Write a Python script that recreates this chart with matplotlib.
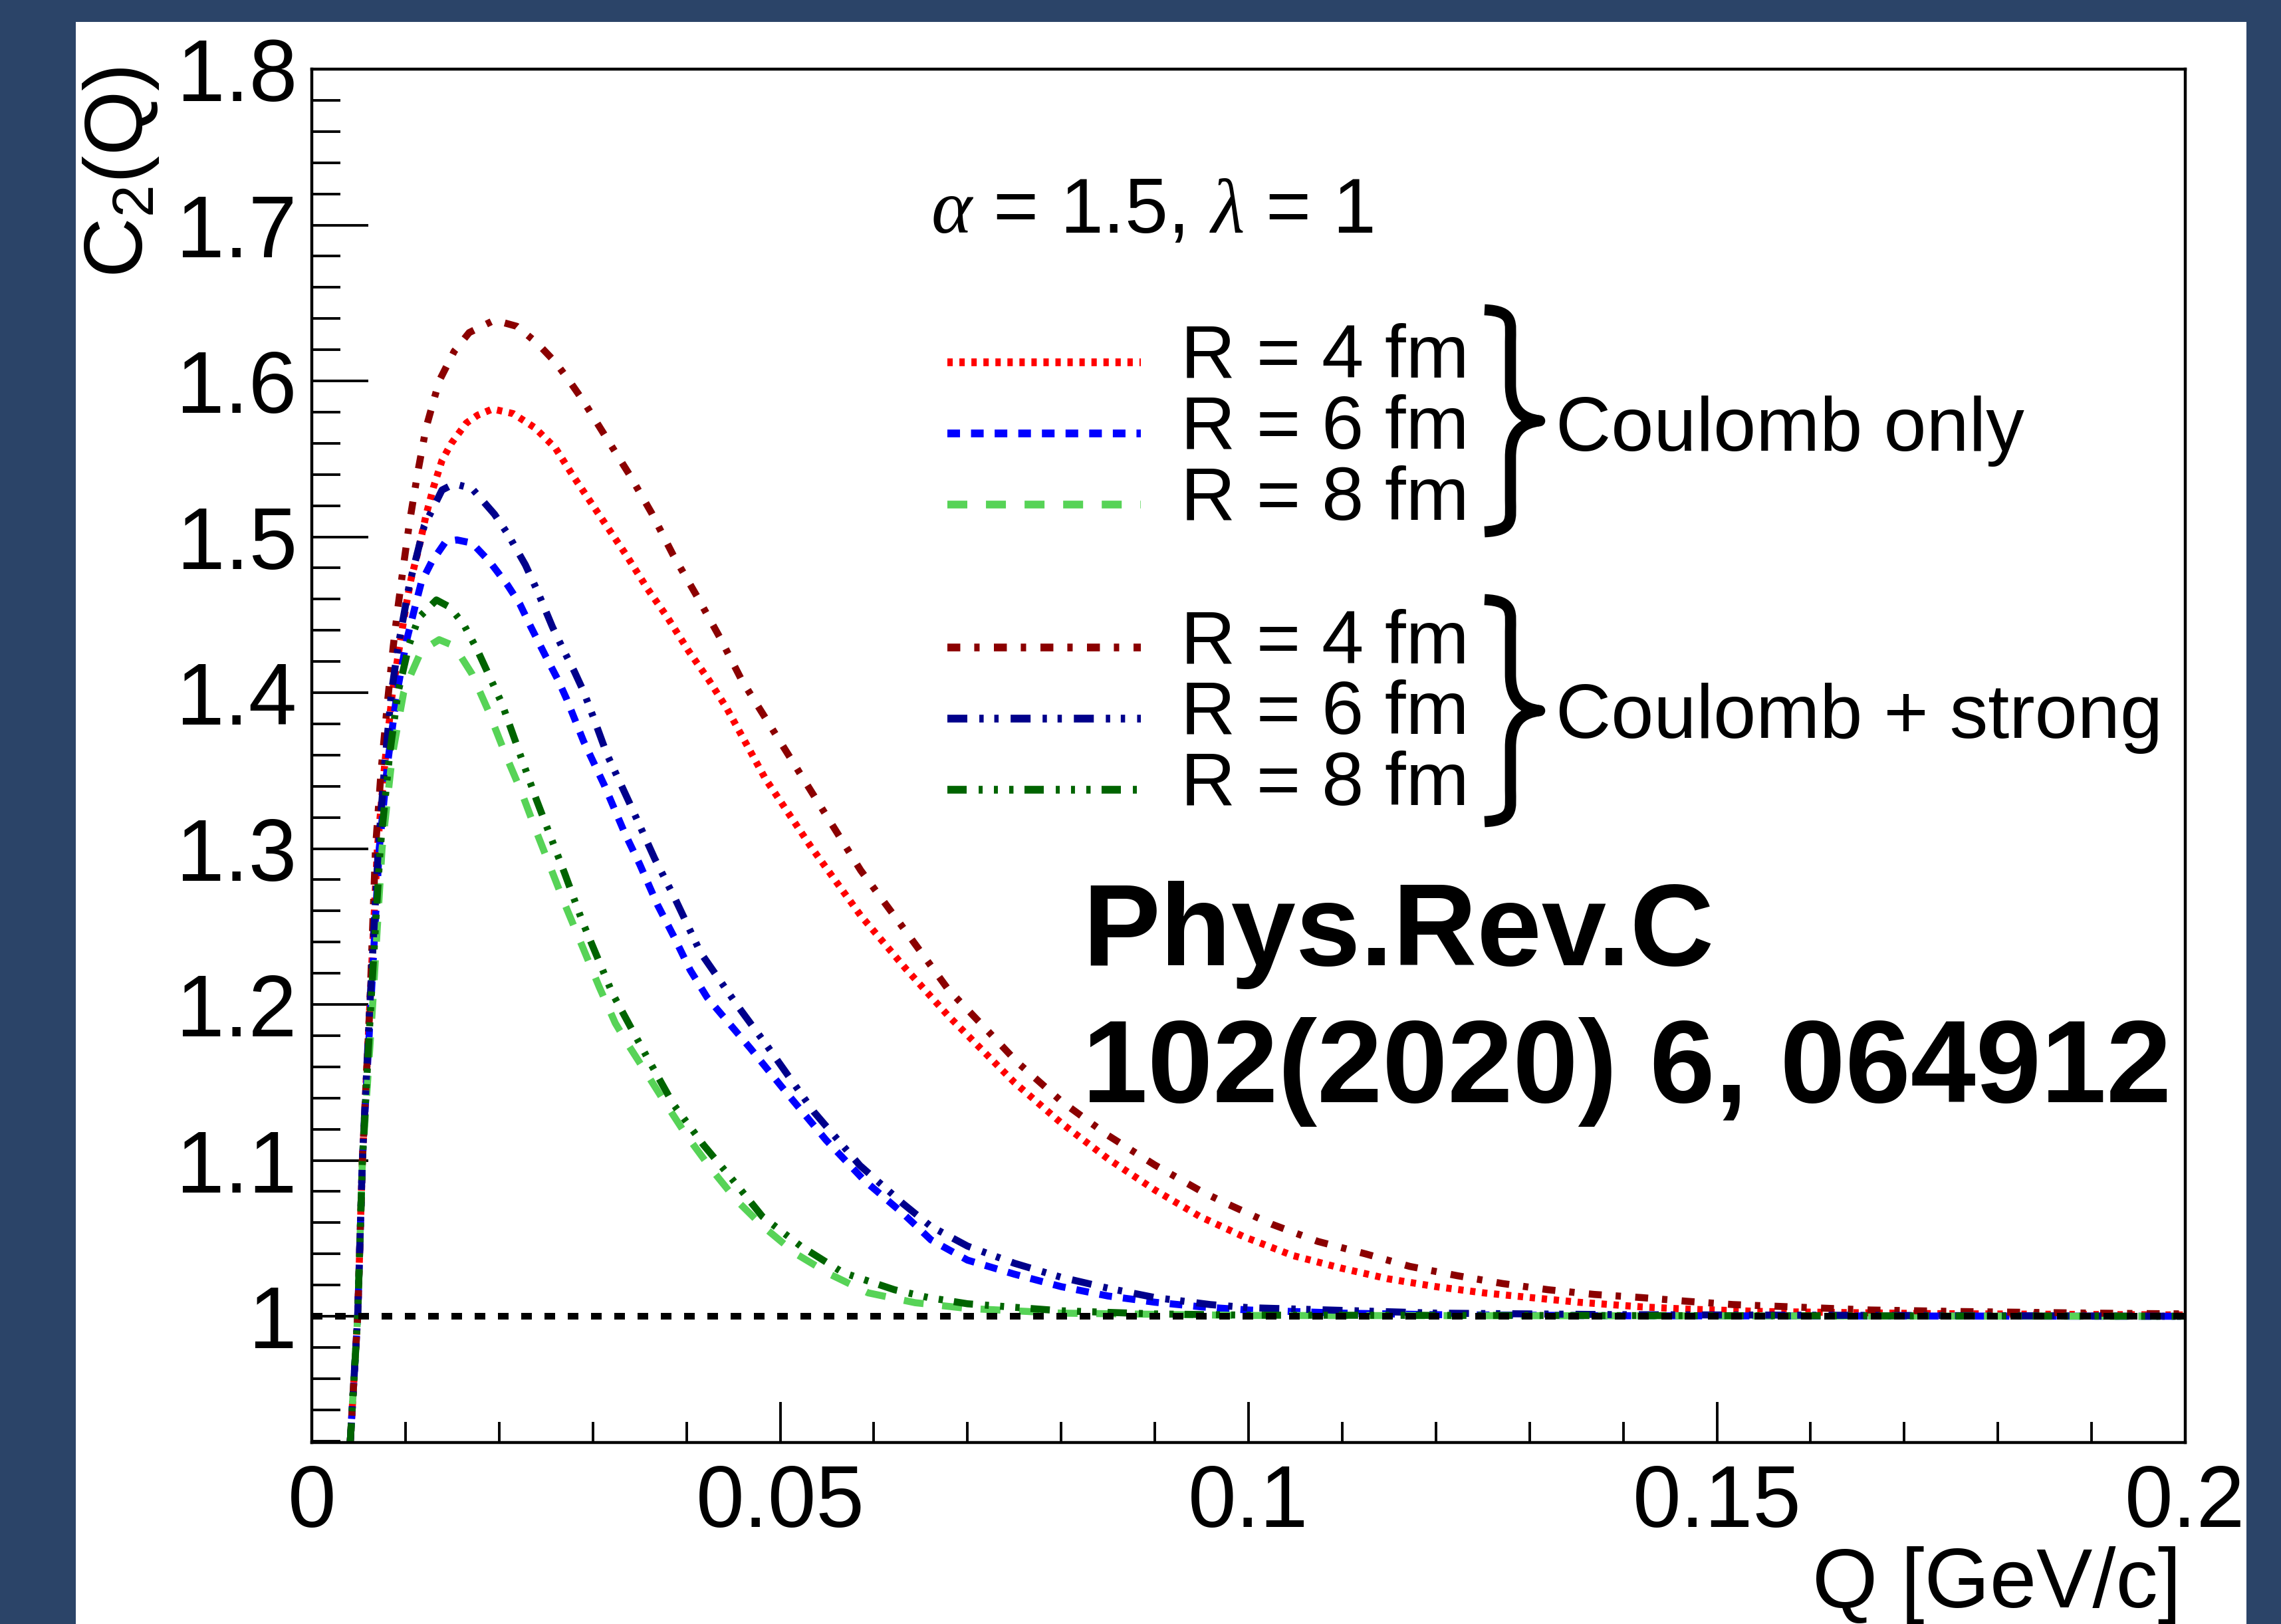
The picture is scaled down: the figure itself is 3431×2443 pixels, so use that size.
import matplotlib
matplotlib.use('Agg')
import matplotlib.pyplot as plt
from matplotlib.lines import Line2D
from matplotlib.patches import Rectangle, PathPatch
from matplotlib.path import Path

# --- data: Q [GeV/c] and C2(Q) ---
# Coulomb only
q_c4 = [0.0041, 0.0049, 0.0054, 0.0062, 0.0070, 0.0078, 0.0086, 0.0095, 0.0101, 0.0106,
        0.0114, 0.0122, 0.0130, 0.0139, 0.0149, 0.0165, 0.0177, 0.0193, 0.0215, 0.0238,
        0.0260, 0.0279, 0.0298, 0.0317, 0.0336, 0.0358, 0.0380, 0.0402, 0.0424, 0.0443,
        0.0484, 0.0533, 0.0586, 0.0634, 0.0679, 0.0712, 0.0750, 0.0800, 0.0850, 0.0900,
        0.0948, 0.0995, 0.1047, 0.1098, 0.1149, 0.1200, 0.1251, 0.1301, 0.1352, 0.1420,
        0.1471, 0.1552, 0.1727, 0.2000]
c_c4 = [0.919, 1.000, 1.100, 1.200, 1.300, 1.355, 1.400, 1.435, 1.457, 1.473,
        1.492, 1.514, 1.532, 1.549, 1.560, 1.573, 1.578, 1.582, 1.579, 1.570,
        1.557, 1.539, 1.522, 1.505, 1.488, 1.467, 1.448, 1.427, 1.408, 1.390,
        1.345, 1.301, 1.257, 1.223, 1.193, 1.173, 1.150, 1.124, 1.101, 1.081,
        1.064, 1.051, 1.039, 1.031, 1.024, 1.019, 1.015, 1.012, 1.009, 1.006,
        1.0045, 1.003, 1.0017, 1.0008]

q_c6 = [0.0041, 0.0049, 0.0054, 0.0063, 0.0072, 0.0081, 0.0091, 0.0101, 0.0111, 0.0117,
        0.0128, 0.0143, 0.0155, 0.0171, 0.0190, 0.0209, 0.0222, 0.0234, 0.0250, 0.0263,
        0.0272, 0.0290, 0.0312, 0.0334, 0.0350, 0.0369, 0.0387, 0.0404, 0.0422, 0.0468,
        0.0508, 0.0549, 0.0590, 0.0631, 0.0661, 0.0700, 0.0750, 0.0800, 0.0850, 0.0900,
        0.0950, 0.1000, 0.1100, 0.1200, 0.1400, 0.2000]
c_c6 = [0.919, 1.000, 1.100, 1.200, 1.300, 1.355, 1.400, 1.433, 1.457, 1.471,
        1.484, 1.497, 1.498, 1.496, 1.484, 1.469, 1.457, 1.442, 1.423, 1.408,
        1.396, 1.369, 1.341, 1.310, 1.290, 1.264, 1.243, 1.222, 1.2045, 1.172,
        1.1425, 1.113, 1.087, 1.066, 1.049, 1.036, 1.027, 1.019, 1.013, 1.009,
        1.006, 1.004, 1.002, 1.001, 1.0003, 1.000]

q_c8 = [0.0041, 0.0049, 0.0054, 0.0065, 0.0075, 0.0086, 0.0098, 0.0106, 0.0117, 0.0136,
        0.0152, 0.0171, 0.0188, 0.0207, 0.0224, 0.0239, 0.0256, 0.0271, 0.0289, 0.0307,
        0.0324, 0.0339, 0.0355, 0.0375, 0.0400, 0.0427, 0.0454, 0.0481, 0.0517, 0.0553,
        0.0594, 0.0644, 0.0700, 0.0800, 0.1000, 0.2000]
c_c8 = [0.919, 1.000, 1.100, 1.200, 1.300, 1.360, 1.400, 1.412, 1.427, 1.434,
        1.430, 1.412, 1.389, 1.360, 1.336, 1.312, 1.286, 1.263, 1.237, 1.211,
        1.188, 1.173, 1.158, 1.139, 1.116, 1.094, 1.074, 1.058, 1.040, 1.027,
        1.015, 1.0087, 1.005, 1.002, 1.0005, 1.000]

# Coulomb + strong
q_cs4 = [0.0041, 0.0049, 0.0054, 0.0062, 0.0068, 0.0074, 0.0081, 0.0087, 0.0092, 0.0098,
         0.0104, 0.0113, 0.0122, 0.0136, 0.0152, 0.0168, 0.0195, 0.0219, 0.0241, 0.0260,
         0.0275, 0.0290, 0.0316, 0.0339, 0.0363, 0.0386, 0.0412, 0.0436, 0.0459, 0.0484,
         0.0537, 0.0586, 0.0634, 0.0679, 0.0728, 0.0753, 0.0800, 0.0850, 0.0900, 0.0950,
         0.0974, 0.1025, 0.1074, 0.1125, 0.1172, 0.1223, 0.1271, 0.1320, 0.1369, 0.1419,
         0.1468, 0.1517, 0.1664, 0.1762, 0.1900, 0.2000]
c_cs4 = [0.919, 1.000, 1.100, 1.200, 1.300, 1.350, 1.395, 1.430, 1.455, 1.482,
         1.508, 1.541, 1.570, 1.600, 1.619, 1.631, 1.639, 1.635, 1.624, 1.612,
         1.600, 1.587, 1.562, 1.540, 1.515, 1.488, 1.461, 1.435, 1.408, 1.384,
         1.333, 1.286, 1.247, 1.210, 1.179, 1.163, 1.138, 1.116, 1.097, 1.080,
         1.073, 1.059, 1.048, 1.040, 1.032, 1.026, 1.021, 1.017, 1.014, 1.012,
         1.0096, 1.0075, 1.004, 1.003, 1.002, 1.0015]

q_cs6 = [0.0041, 0.0049, 0.0054, 0.0062, 0.0071, 0.0078, 0.0085, 0.0092, 0.0104, 0.0120,
         0.0139, 0.0152, 0.0171, 0.0195, 0.0209, 0.0228, 0.0241, 0.0257, 0.0269, 0.0280,
         0.0290, 0.0301, 0.0315, 0.0339, 0.0366, 0.0388, 0.0415, 0.0454, 0.0486, 0.0536,
         0.0585, 0.0631, 0.0661, 0.0700, 0.0750, 0.0800, 0.0850, 0.0900, 0.0959, 0.1000,
         0.1057, 0.1200, 0.1400, 0.2000]
c_cs6 = [0.919, 1.000, 1.100, 1.200, 1.300, 1.355, 1.400, 1.429, 1.469, 1.507,
         1.530, 1.534, 1.531, 1.5145, 1.502, 1.482, 1.465, 1.442, 1.427, 1.414,
         1.401, 1.3836, 1.3606, 1.3295, 1.2936, 1.2676, 1.2333, 1.1996, 1.1735, 1.1311,
         1.0968, 1.0723, 1.0576, 1.045, 1.034, 1.025, 1.018, 1.012, 1.0075, 1.0055,
         1.0045, 1.002, 1.001, 1.000]

q_cs8 = [0.0041, 0.0049, 0.0054, 0.0063, 0.0073, 0.0083, 0.0092, 0.0104, 0.0114, 0.0133,
         0.0147, 0.0162, 0.0177, 0.0190, 0.0203, 0.0222, 0.0240, 0.0270, 0.0289, 0.0321,
         0.0339, 0.0359, 0.0386, 0.0418, 0.0450, 0.0481, 0.0522, 0.0567, 0.0622, 0.0658,
         0.0700, 0.0800, 0.0900, 0.1000, 0.2000]
c_cs8 = [0.919, 1.000, 1.100, 1.200, 1.300, 1.360, 1.400, 1.431, 1.448, 1.4595,
         1.455, 1.444, 1.427, 1.410, 1.393, 1.361, 1.331, 1.284, 1.253, 1.207,
         1.187, 1.165, 1.136, 1.110, 1.087, 1.064, 1.045, 1.028, 1.017, 1.012,
         1.008, 1.0035, 1.0015, 1.0007, 1.000]

# reference line C2 = 1
q_ref = [0.0, 0.2]
c_ref = [1.0, 1.0]

y_ticks = [1.0, 1.1, 1.2, 1.3, 1.4, 1.5, 1.6, 1.7, 1.8]
y_labels = ['1', '1.1', '1.2', '1.3', '1.4', '1.5', '1.6', '1.7', '1.8']
x_ticks = [0.0, 0.05, 0.1, 0.15, 0.2]
x_labels = ['0', '0.05', '0.1', '0.15', '0.2']
radius_labels = ['R = 4 fm', 'R = 6 fm', 'R = 8 fm']

# --- figure geometry (pixels of the 3431x2443 image) ---
W, H, DPI = 3431, 2443, 100


def fx(px):
    return px / W


def fy(py):
    return 1 - py / H


plt.rcParams['font.family'] = 'Liberation Sans'
plt.rcParams['mathtext.fontset'] = 'custom'
plt.rcParams['mathtext.rm'] = 'Liberation Sans'
plt.rcParams['mathtext.it'] = 'Liberation Serif:italic'
plt.rcParams['mathtext.bf'] = 'Liberation Sans:bold'
plt.rcParams['lines.scale_dashes'] = False

LW = 7.6
styles = {
    'c4': dict(color='#ff0000', dashes=(5.8, 7.2)),
    'c6': dict(color='#0000ff', dashes=(13.7, 11.9)),
    'c8': dict(color='#57d357', dashes=(21.6, 20.2)),
    'cs4': dict(color='#8b0000', dashes=(14.0, 15.1, 5.8, 15.5)),
    'cs6': dict(color='#00008b', dashes=(21.6, 13.0, 4.7, 11.5, 4.7, 13.0)),
    'cs8': dict(color='#006400', dashes=(20.9, 13.0, 4.3, 12.2, 4.3, 12.2, 4.7, 11.9)),
}

fig = plt.figure(figsize=(W / DPI, H / DPI), dpi=DPI, facecolor='#2b4468')
fig.add_artist(Rectangle((fx(114), fy(2443)), (3379 - 114) / W, (2443 - 33) / H,
                         transform=fig.transFigure, facecolor='white',
                         edgecolor='none', zorder=-10))

ax = fig.add_axes([fx(469), fy(2170), (3287 - 469) / W, (2170 - 104) / H])
ax.set_xlim(0, 0.2)
ax.set_ylim(0.919, 1.8)

ax.plot(q_c4, c_c4, lw=LW, **styles['c4'])
ax.plot(q_c6, c_c6, lw=LW, **styles['c6'])
ax.plot(q_c8, c_c8, lw=LW, **styles['c8'])
ax.plot(q_cs4, c_cs4, lw=LW, **styles['cs4'])
ax.plot(q_cs6, c_cs6, lw=LW, **styles['cs6'])
ax.plot(q_cs8, c_cs8, lw=LW, **styles['cs8'])
ax.plot(q_ref, c_ref, lw=7.2, color='black', dashes=(11.5, 13.7), zorder=5)

# ROOT-like axes: ticks inside, only on left and bottom
ax.set_yticks(y_ticks)
ax.set_yticklabels(y_labels)
ax.set_yticks([0.92 + 0.02 * i for i in range(45) if i % 5 != 4], minor=True)
ax.set_xticks(x_ticks)
ax.set_xticklabels(x_labels)
ax.set_xticks([0.01 * i for i in range(21) if i % 5 != 0], minor=True)
ax.tick_params(axis='both', which='both', direction='in', top=False, right=False,
               width=2.8, labelsize=94)
ax.tick_params(axis='y', which='major', length=61, pad=16)
ax.tick_params(axis='y', which='minor', length=31)
ax.tick_params(axis='x', which='major', length=44, pad=22)
ax.tick_params(axis='x', which='minor', length=22)
for sp in ax.spines.values():
    sp.set_linewidth(3.2)

# axis titles
fig.text(fx(3281), fy(2418), 'Q [GeV/c]', fontsize=91, ha='right', va='baseline')
fig.text(fx(214), fy(100), r'C$_{\mathrm{2}}$(Q)', fontsize=90, rotation=90,
         rotation_mode='anchor', ha='right', va='baseline')

# parameters
fig.text(fx(1400), fy(350), r'$\alpha$ = 1.5, $\lambda$ = 1', fontsize=84,
         ha='left', va='baseline')

# hand-made legend
rows = [(545, 'c4'), (652, 'c6'), (759, 'c8'),
        (974, 'cs4'), (1081, 'cs6'), (1188, 'cs8')]
for i, (ypx, key) in enumerate(rows):
    fig.add_artist(Line2D([fx(1425), fx(1716)], [fy(ypx), fy(ypx)], lw=LW + 0.8,
                          transform=fig.transFigure, **styles[key]))
    fig.text(fx(1776), fy(ypx + 23), radius_labels[i % 3], fontsize=82,
             ha='left', va='baseline')


def brace(top, bottom, x0=2233, xs=2272, x1=2316):
    ym = (top + bottom) / 2
    pts = [(x0, top), (xs + 6, top + 2), (xs, top + 20), (xs, top + 48),
           (xs, ym - 55),
           (xs, ym - 15), (x1 - 25, ym - 3), (x1, ym),
           (x1 - 25, ym + 3), (xs, ym + 15), (xs, ym + 55),
           (xs, bottom - 48),
           (xs, bottom - 20), (xs + 6, bottom - 2), (x0, bottom)]
    codes = [Path.MOVETO, Path.CURVE4, Path.CURVE4, Path.CURVE4,
             Path.LINETO,
             Path.CURVE4, Path.CURVE4, Path.CURVE4,
             Path.CURVE4, Path.CURVE4, Path.CURVE4,
             Path.LINETO,
             Path.CURVE4, Path.CURVE4, Path.CURVE4]
    verts = [(fx(px), fy(py)) for px, py in pts]
    fig.add_artist(PathPatch(Path(verts, codes), transform=fig.transFigure,
                             fill=False, lw=12, edgecolor='black',
                             capstyle='butt', joinstyle='round'))


brace(466, 800)
brace(902, 1236)
fig.text(fx(2340), fy(678), 'Coulomb only', fontsize=83, ha='left', va='baseline')
fig.text(fx(2340), fy(1110), 'Coulomb + strong', fontsize=83, ha='left', va='baseline')

# reference
fig.text(fx(1628), fy(1452), 'Phys.Rev.C', fontsize=126, fontweight='bold',
         ha='left', va='baseline')
fig.text(fx(1628), fy(1658), '102(2020) 6, 064912', fontsize=127, fontweight='bold',
         ha='left', va='baseline')

fig.savefig('out.png', dpi=DPI, facecolor=fig.get_facecolor())
